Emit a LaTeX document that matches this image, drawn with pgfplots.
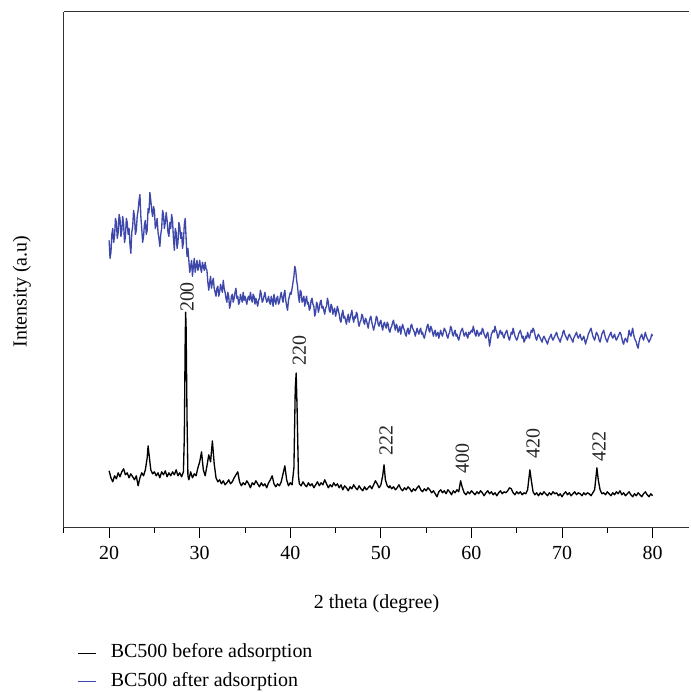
\documentclass[border=0pt]{standalone}
\usepackage{pgfplots}
\pgfplotsset{compat=1.18}
\usepackage{fontspec}
\setmainfont{Liberation Serif}
\definecolor{xblue}{RGB}{62,72,170}
\newcommand\fs{\fontsize{15}{18}\selectfont}
\begin{document}
\begin{tikzpicture}
\begin{axis}[
  scale only axis,
  width=470.25pt, height=387.75pt,
  xmin=15, xmax=84.05, ymin=0, ymax=517,
  clip=false,
  axis x line=box, axis y line=left,
  x axis line style={-, draw=black!80, line width=0.75pt},
  y axis line style={-, draw=black!80, line width=0.75pt},
  xtick={20,30,...,80},
  minor xtick={15,25,...,75},
  xtick pos=bottom,
  ytick=\empty,
  tick align=outside,
  major tick length=7.5pt, minor tick length=3.75pt,
  every tick/.style={black, line width=0.75pt},
  /pgf/number format/assume math mode=true,
  tick label style={font=\fs},
  xticklabel style={yshift=-3pt},
  xlabel={2 theta (degree)},
  ylabel={Intensity (a.u)},
  every axis x label/.style={at={(axis description cs:0.5,-0.147)}, anchor=center, font=\fs},
  every axis y label/.style={at={(axis description cs:-0.067,0.458)}, rotate=90, anchor=center, font=\fs},
  legend style={at={(axis description cs:0.0223,-0.2224)}, anchor=north west, draw=none, fill=none, inner sep=0pt, font=\fs, row sep=5.5pt,
    nodes={inner sep=1pt, text height=10.5pt, text depth=3.3pt},
    /tikz/every odd column/.append style={column sep=9.5pt}},
  legend cell align=left,
  legend image code/.code={\draw[#1, line width=0.6pt] (0pt,0pt) -- (13.5pt,0pt);},
]
\addplot[black, line width=1pt, line join=round] coordinates {
(20.0,57) (20.2,50) (20.4,46) (20.6,52) (20.8,49) (21.0,55) (21.2,51) (21.4,56) (21.6,59) (21.8,53)
(22.0,55) (22.2,50) (22.4,54) (22.6,51) (22.8,48) (23.0,52) (23.2,42) (23.4,50) (23.6,55) (23.8,52)
(24.0,58) (24.2,70) (24.3,82) (24.4,74) (24.6,58) (24.8,54) (25.0,56) (25.2,52) (25.4,55) (25.6,50)
(25.8,56) (26.0,53) (26.2,57) (26.4,51) (26.6,55) (26.8,52) (27.0,56) (27.2,53) (27.4,58) (27.6,52)
(27.8,55) (28.0,51) (28.2,56) (28.3,90) (28.4,190) (28.45,216) (28.5,200) (28.6,110) (28.7,52) (28.8,48)
(29.0,56) (29.2,50) (29.4,54) (29.6,52) (29.8,60) (30.0,66) (30.2,76) (30.4,58) (30.6,52) (30.8,62)
(31.0,73) (31.2,66) (31.4,87) (31.6,64) (31.8,50) (32.0,46) (32.2,48) (32.4,44) (32.6,47) (32.8,43)
(33.0,45) (33.2,48) (33.4,44) (33.6,46) (33.8,50) (34.0,53) (34.2,56) (34.4,46) (34.6,42) (34.8,45)
(35.0,43) (35.2,47) (35.4,44) (35.6,40) (35.8,45) (36.0,43) (36.2,47) (36.4,44) (36.6,41) (36.8,45)
(37.0,42) (37.2,44) (37.4,40) (37.6,45) (37.8,48) (38.0,52) (38.2,44) (38.4,41) (38.6,44) (38.8,42)
(39.0,46) (39.2,54) (39.4,62) (39.6,48) (39.8,42) (40.0,45) (40.2,43) (40.4,60) (40.55,140) (40.65,155)
(40.75,120) (40.9,52) (41.0,44) (41.2,42) (41.4,46) (41.6,43) (41.8,41) (42.0,45) (42.2,42) (42.4,44)
(42.6,40) (42.8,43) (43.0,46) (43.2,42) (43.4,45) (43.6,43) (43.8,48) (44.0,44) (44.2,40) (44.4,43)
(44.6,41) (44.8,45) (45.0,42) (45.2,44) (45.4,40) (45.6,43) (45.8,38) (46.0,42) (46.2,40) (46.4,37)
(46.6,41) (46.8,39) (47.0,43) (47.2,40) (47.4,38) (47.6,42) (47.8,39) (48.0,37) (48.2,41) (48.4,38)
(48.6,40) (48.8,42) (49.0,39) (49.2,43) (49.4,47) (49.6,44) (49.8,40) (50.0,43) (50.2,52) (50.35,63)
(50.5,48) (50.7,42) (50.9,40) (51.0,42) (51.2,39) (51.4,41) (51.6,38) (51.8,40) (52.0,43) (52.2,39)
(52.4,37) (52.6,40) (52.8,38) (53.0,41) (53.2,39) (53.4,36) (53.6,39) (53.8,37) (54.0,40) (54.2,42)
(54.4,38) (54.6,36) (54.8,39) (55.0,37) (55.2,40) (55.4,38) (55.6,35) (55.8,37) (56.0,34) (56.2,31)
(56.4,36) (56.6,38) (56.8,35) (57.0,37) (57.2,34) (57.4,38) (57.6,36) (57.8,33) (58.0,37) (58.2,35)
(58.4,38) (58.6,36) (58.8,47) (59.0,40) (59.2,35) (59.4,33) (59.6,36) (59.8,34) (60.0,37) (60.2,35)
(60.4,33) (60.6,36) (60.8,34) (61.0,37) (61.2,35) (61.4,32) (61.6,35) (61.8,37) (62.0,34) (62.2,36)
(62.4,33) (62.6,35) (62.8,32) (63.0,35) (63.2,37) (63.4,34) (63.6,36) (63.8,35) (64.0,37) (64.2,40)
(64.4,39) (64.6,35) (64.8,33) (65.0,36) (65.2,34) (65.4,36) (65.6,33) (65.8,35) (66.0,34) (66.2,38)
(66.45,58) (66.6,48) (66.8,36) (67.0,33) (67.2,35) (67.4,32) (67.6,35) (67.8,33) (68.0,36) (68.2,34)
(68.4,32) (68.6,35) (68.8,33) (69.0,36) (69.2,34) (69.4,35) (69.6,32) (69.8,34) (70.0,31) (70.2,34)
(70.4,36) (70.6,33) (70.8,35) (71.0,32) (71.2,34) (71.4,36) (71.6,33) (71.8,35) (72.0,34) (72.2,32)
(72.4,35) (72.6,33) (72.8,35) (73.0,34) (73.2,32) (73.4,35) (73.6,38) (73.85,60) (74.0,48) (74.2,38)
(74.4,34) (74.6,35) (74.8,33) (75.0,36) (75.2,34) (75.4,32) (75.6,35) (75.8,33) (76.0,36) (76.2,34)
(76.4,37) (76.6,33) (76.8,35) (77.0,32) (77.2,34) (77.4,36) (77.6,33) (77.8,31) (78.0,34) (78.2,32)
(78.4,35) (78.6,33) (78.8,31) (79.0,34) (79.2,36) (79.4,33) (79.6,31) (79.8,34) (80.0,32)
};
\addlegendentry{BC500 before adsorption}
\addplot[xblue, line width=1pt, line join=round] coordinates {
(20.0,288) (20.1,270) (20.2,276) (20.3,294) (20.4,300) (20.5,286) (20.6,292) (20.7,310) (20.8,306) (20.9,290)
(21.0,296) (21.1,314) (21.2,310) (21.3,292) (21.4,298) (21.5,312) (21.6,304) (21.7,286) (21.8,292) (21.9,310)
(22.0,306) (22.1,294) (22.2,300) (22.3,284) (22.4,275) (22.5,296) (22.6,302) (22.7,318) (22.8,312) (22.9,294)
(23.0,298) (23.1,312) (23.2,318) (23.3,328) (23.4,334) (23.5,312) (23.6,300) (23.7,286) (23.8,292) (23.9,304)
(24.0,308) (24.1,294) (24.2,298) (24.3,320) (24.4,316) (24.5,336) (24.6,328) (24.7,318) (24.8,312) (24.9,322)
(25.0,318) (25.1,300) (25.2,304) (25.3,310) (25.4,296) (25.5,290) (25.6,282) (25.7,294) (25.8,300) (25.9,318)
(26.0,314) (26.1,300) (26.2,306) (26.3,316) (26.4,308) (26.5,296) (26.6,292) (26.7,306) (26.8,300) (26.9,314)
(27.0,308) (27.1,290) (27.2,278) (27.3,300) (27.4,296) (27.5,280) (27.6,286) (27.7,306) (27.8,302) (27.9,290)
(28.0,296) (28.1,280) (28.2,286) (28.3,304) (28.4,310) (28.5,290) (28.6,272) (28.7,280) (28.8,268) (28.9,256)
(29.0,262) (29.1,268) (29.2,252) (29.3,262) (29.4,270) (29.5,256) (29.6,262) (29.7,268) (29.8,258) (29.9,262)
(30.0,268) (30.1,260) (30.2,256) (30.3,266) (30.4,262) (30.5,258) (30.6,266) (30.7,260) (30.8,258) (30.9,246)
(31.0,238) (31.1,246) (31.2,252) (31.3,240) (31.4,246) (31.5,250) (31.6,240) (31.7,236) (31.8,232) (31.9,240)
(32.0,242) (32.1,232) (32.2,236) (32.3,244) (32.4,240) (32.5,236) (32.6,248) (32.7,240) (32.8,236) (32.9,230)
(33.0,226) (33.1,236) (33.2,232) (33.3,220) (33.4,224) (33.5,232) (33.6,234) (33.7,226) (33.8,230) (33.9,236)
(34.0,240) (34.1,230) (34.2,232) (34.3,224) (34.4,226) (34.5,234) (34.6,230) (34.7,226) (34.8,236) (34.9,228)
(35.0,232) (35.1,228) (35.2,224) (35.3,230) (35.4,232) (35.5,228) (35.6,236) (35.7,230) (35.8,226) (35.9,234)
(36.0,232) (36.1,224) (36.2,230) (36.3,226) (36.4,222) (36.5,228) (36.6,230) (36.7,238) (36.8,234) (36.9,226)
(37.0,228) (37.1,232) (37.2,236) (37.3,230) (37.4,226) (37.5,228) (37.6,232) (37.7,226) (37.8,224) (37.9,232)
(38.0,228) (38.1,222) (38.2,234) (38.3,228) (38.4,224) (38.5,230) (38.6,232) (38.7,224) (38.8,226) (38.9,232)
(39.0,236) (39.1,230) (39.2,226) (39.3,234) (39.4,238) (39.5,228) (39.6,222) (39.7,218) (39.8,228) (39.9,232)
(40.0,236) (40.1,234) (40.2,240) (40.3,246) (40.4,252) (40.5,262) (40.6,258) (40.7,248) (40.8,242) (40.9,232)
(41.0,226) (41.1,238) (41.2,236) (41.3,226) (41.4,228) (41.5,232) (41.6,222) (41.7,228) (41.8,232) (41.9,224)
(42.0,226) (42.1,218) (42.2,220) (42.3,228) (42.4,230) (42.5,224) (42.6,222) (42.7,212) (42.8,216) (42.9,226)
(43.0,224) (43.1,216) (43.2,220) (43.3,226) (43.4,228) (43.5,220) (43.6,222) (43.7,218) (43.8,214) (43.9,220)
(44.0,222) (44.1,230) (44.2,226) (44.3,218) (44.4,216) (44.5,224) (44.6,222) (44.7,214) (44.8,218) (44.9,220)
(45.0,212) (45.1,216) (45.2,222) (45.3,218) (45.4,214) (45.5,208) (45.6,206) (45.7,214) (45.8,218) (45.9,210)
(46.0,212) (46.1,208) (46.2,204) (46.3,210) (46.4,214) (46.5,206) (46.6,210) (46.7,214) (46.8,218) (46.9,210)
(47.0,206) (47.1,212) (47.2,210) (47.3,216) (47.4,214) (47.5,206) (47.6,202) (47.7,206) (47.8,208) (47.9,214)
(48.0,212) (48.1,206) (48.2,204) (48.3,210) (48.4,208) (48.5,204) (48.6,200) (48.7,206) (48.8,210) (48.9,212)
(49.0,206) (49.1,202) (49.2,198) (49.3,202) (49.4,206) (49.5,212) (49.6,210) (49.7,204) (49.8,202) (49.9,206)
(50.0,208) (50.1,202) (50.2,198) (50.3,204) (50.4,206) (50.5,202) (50.6,200) (50.7,206) (50.8,204) (50.9,198)
(51.0,196) (51.1,200) (51.2,202) (51.3,206) (51.4,208) (51.5,202) (51.6,198) (51.7,204) (51.8,202) (51.9,196)
(52.0,198) (52.1,202) (52.2,194) (52.3,200) (52.4,204) (52.5,200) (52.6,198) (52.7,194) (52.8,192) (52.9,198)
(53.0,200) (53.1,194) (53.2,196) (53.3,202) (53.4,204) (53.5,200) (53.6,198) (53.7,196) (53.8,192) (53.9,196)
(54.0,200) (54.1,196) (54.2,194) (54.3,198) (54.4,200) (54.5,194) (54.6,196) (54.7,192) (54.8,190) (54.9,194)
(55.0,198) (55.1,202) (55.2,204) (55.3,198) (55.4,196) (55.5,202) (55.6,200) (55.7,196) (55.8,192) (55.9,196)
(56.0,198) (56.1,192) (56.2,194) (56.3,196) (56.4,190) (56.5,194) (56.6,198) (56.7,194) (56.8,192) (56.9,196)
(57.0,200) (57.1,198) (57.2,196) (57.3,192) (57.4,190) (57.5,194) (57.6,196) (57.7,202) (57.8,200) (57.9,194)
(58.0,192) (58.1,196) (58.2,198) (58.3,192) (58.4,194) (58.5,190) (58.6,188) (58.7,192) (58.8,196) (58.9,198)
(59.0,200) (59.1,196) (59.2,192) (59.3,194) (59.4,196) (59.5,192) (59.6,190) (59.7,196) (59.8,194) (59.9,196)
(60.0,198) (60.1,196) (60.2,202) (60.3,198) (60.4,194) (60.5,192) (60.6,198) (60.7,196) (60.8,192) (60.9,194)
(61.0,196) (61.1,194) (61.2,200) (61.3,198) (61.4,194) (61.5,192) (61.6,190) (61.7,194) (61.8,196) (61.9,190)
(62.0,182) (62.1,188) (62.2,194) (62.3,196) (62.4,198) (62.5,196) (62.6,202) (62.7,198) (62.8,196) (62.9,190)
(63.0,192) (63.1,196) (63.2,198) (63.3,194) (63.4,196) (63.5,192) (63.6,190) (63.7,194) (63.8,196) (63.9,198)
(64.0,194) (64.1,190) (64.2,188) (64.3,192) (64.4,196) (64.5,194) (64.6,200) (64.7,196) (64.8,192) (64.9,190)
(65.0,188) (65.1,190) (65.2,194) (65.3,196) (65.4,198) (65.5,194) (65.6,190) (65.7,192) (65.8,186) (65.9,188)
(66.0,192) (66.1,190) (66.2,196) (66.3,192) (66.4,190) (66.5,194) (66.6,198) (66.7,196) (66.8,200) (66.9,198)
(67.0,194) (67.1,190) (67.2,188) (67.3,192) (67.4,194) (67.5,192) (67.6,190) (67.7,188) (67.8,186) (67.9,190)
(68.0,192) (68.1,190) (68.2,188) (68.3,186) (68.4,184) (68.5,188) (68.6,190) (68.7,192) (68.8,194) (68.9,190)
(69.0,188) (69.1,190) (69.2,192) (69.3,194) (69.4,196) (69.5,192) (69.6,190) (69.7,188) (69.8,186) (69.9,190)
(70.0,192) (70.1,196) (70.2,198) (70.3,194) (70.4,192) (70.5,190) (70.6,188) (70.7,192) (70.8,194) (70.9,192)
(71.0,190) (71.1,188) (71.2,186) (71.3,190) (71.4,192) (71.5,194) (71.6,196) (71.7,192) (71.8,190) (71.9,192)
(72.0,194) (72.1,190) (72.2,188) (72.3,190) (72.4,192) (72.5,188) (72.6,184) (72.7,188) (72.8,190) (72.9,194)
(73.0,196) (73.1,198) (73.2,200) (73.3,196) (73.4,192) (73.5,190) (73.6,188) (73.7,192) (73.8,196) (73.9,194)
(74.0,192) (74.1,188) (74.2,186) (74.3,190) (74.4,194) (74.5,196) (74.6,198) (74.7,194) (74.8,190) (74.9,188)
(75.0,186) (75.1,190) (75.2,192) (75.3,194) (75.4,196) (75.5,192) (75.6,190) (75.7,192) (75.8,194) (75.9,190)
(76.0,188) (76.1,190) (76.2,192) (76.3,194) (76.4,196) (76.5,194) (76.6,190) (76.7,186) (76.8,184) (76.9,188)
(77.0,190) (77.1,188) (77.2,186) (77.3,192) (77.4,198) (77.5,194) (77.6,192) (77.7,196) (77.8,200) (77.9,194)
(78.0,190) (78.1,188) (78.2,186) (78.3,182) (78.4,180) (78.5,186) (78.6,190) (78.7,192) (78.8,194) (78.9,190)
(79.0,188) (79.1,192) (79.2,196) (79.3,192) (79.4,190) (79.5,188) (79.6,186) (79.7,188) (79.8,190) (79.9,194)
(80.0,192)
};
\addlegendentry{BC500 after adsorption}
\begin{scope}[every node/.style={font=\fs, rotate=90, anchor=west, inner sep=0pt, black!85}]
\node at (axis cs:28.6,216) {200};
\node at (axis cs:41.0,162) {220};
\node at (axis cs:50.58,72) {222};
\node at (axis cs:59.0,54) {400};
\node at (axis cs:66.8,69) {420};
\node at (axis cs:74.07,66) {422};
\end{scope}
\path (rel axis cs:-0.10207,1.02321) rectangle (rel axis cs:1.0016,-0.31141);
\end{axis}
\end{tikzpicture}
\end{document}
